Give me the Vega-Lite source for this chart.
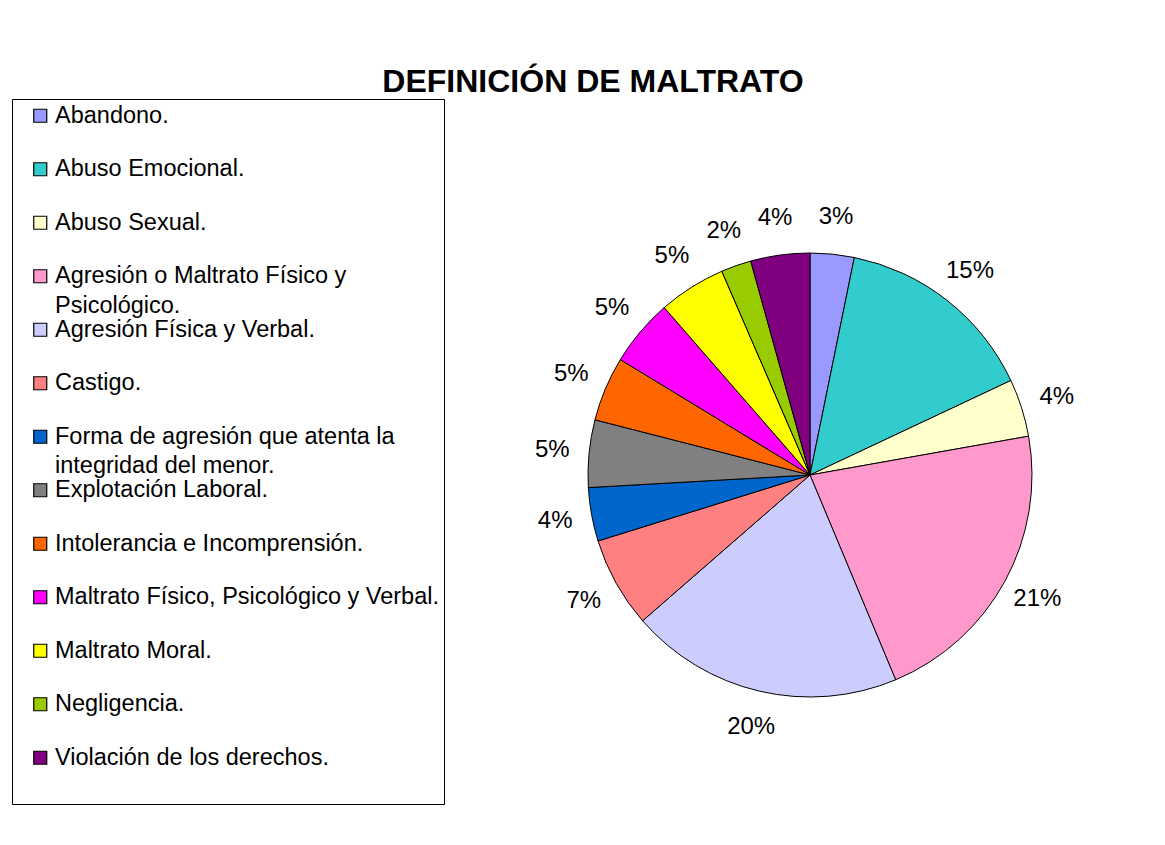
{
  "$schema": "https://vega.github.io/schema/vega-lite/v6.json",
  "autosize": {"type": "none"},
  "width": 444,
  "height": 444,
  "padding": {"left": 588, "top": 253, "right": 133, "bottom": 148},
  "background": "white",
  "title": {
    "text": "DEFINICIÓN DE MALTRATO",
    "font": "Liberation Sans",
    "fontSize": 32,
    "fontWeight": "bold",
    "color": "black",
    "frame": "group",
    "anchor": "middle",
    "dx": -217,
    "offset": -25,
    "baseline": "alphabetic"
  },
  "config": {"view": {"stroke": null}},
  "data": {
    "values": [
      {"categoria": "Abandono.", "valor": 0.032, "orden": 1},
      {"categoria": "Abuso Emocional.", "valor": 0.148, "orden": 2},
      {"categoria": "Abuso Sexual.", "valor": 0.042, "orden": 3},
      {"categoria": "Agresión o Maltrato Físico y Psicológico.", "valor": 0.2149, "orden": 4},
      {"categoria": "Agresión Física y Verbal.", "valor": 0.199, "orden": 5},
      {"categoria": "Castigo.", "valor": 0.066, "orden": 6},
      {"categoria": "Forma de agresión que atenta la integridad del menor.", "valor": 0.039, "orden": 7},
      {"categoria": "Explotación Laboral.", "valor": 0.049, "orden": 8},
      {"categoria": "Intolerancia e Incomprensión.", "valor": 0.047, "orden": 9},
      {"categoria": "Maltrato Físico, Psicológico y Verbal.", "valor": 0.049, "orden": 10},
      {"categoria": "Maltrato Moral.", "valor": 0.049, "orden": 11},
      {"categoria": "Negligencia.", "valor": 0.022, "orden": 12},
      {"categoria": "Violación de los derechos.", "valor": 0.043, "orden": 13}
    ]
  },
  "layer": [
    {
      "mark": {"type": "arc", "stroke": "black", "strokeWidth": 1},
      "encoding": {
        "theta": {"field": "valor", "type": "quantitative", "stack": true},
        "order": {"field": "orden", "type": "quantitative"},
        "color": {
          "field": "categoria",
          "type": "nominal",
          "scale": {
            "domain": [
              "Abandono.",
              "Abuso Emocional.",
              "Abuso Sexual.",
              "Agresión o Maltrato Físico y Psicológico.",
              "Agresión Física y Verbal.",
              "Castigo.",
              "Forma de agresión que atenta la integridad del menor.",
              "Explotación Laboral.",
              "Intolerancia e Incomprensión.",
              "Maltrato Físico, Psicológico y Verbal.",
              "Maltrato Moral.",
              "Negligencia.",
              "Violación de los derechos."
            ],
            "range": ["#9999FF", "#33CCCC", "#FFFFCC", "#FF99CC", "#CCCCFF", "#FF8080", "#0066CC", "#808080", "#FF6600", "#FF00FF", "#FFFF00", "#99CC00", "#800080"]
          },
          "legend": {
            "orient": "none",
            "legendX": -576,
            "legendY": -154,
            "title": null,
            "strokeColor": "black",
            "fillColor": "white",
            "padding": 5,
            "symbolType": "square",
            "symbolSize": 169,
            "symbolStrokeColor": "black",
            "symbolStrokeWidth": 1.2,
            "symbolOffset": 11.5,
            "labelOffset": 3,
            "labelFont": "Liberation Sans",
            "labelFontSize": 23.5,
            "labelColor": "black",
            "labelLimit": 0,
            "labelBaseline": "middle",
            "rowPadding": -0.5,
            "labelExpr": "datum.label == 'Agresión o Maltrato Físico y Psicológico.' ? ['Agresión o Maltrato Físico y', 'Psicológico.'] : datum.label == 'Forma de agresión que atenta la integridad del menor.' ? ['Forma de agresión que atenta la', 'integridad del menor.'] : [datum.label, '']",
            "encode": {
              "labels": {"update": {"lineHeight": {"value": 29.5}}},
              "symbols": {"update": {"stroke": {"value": "black"}, "strokeWidth": {"value": 1.2}}}
            }
          }
        }
      }
    },
    {
      "mark": {"type": "text", "radius": 259, "font": "Liberation Sans", "fontSize": 24, "color": "black", "align": "center", "baseline": "middle"},
      "encoding": {
        "theta": {"field": "valor", "type": "quantitative", "stack": true},
        "order": {"field": "orden", "type": "quantitative"},
        "text": {"field": "valor", "type": "quantitative", "format": ".0%"}
      }
    }
  ]
}
